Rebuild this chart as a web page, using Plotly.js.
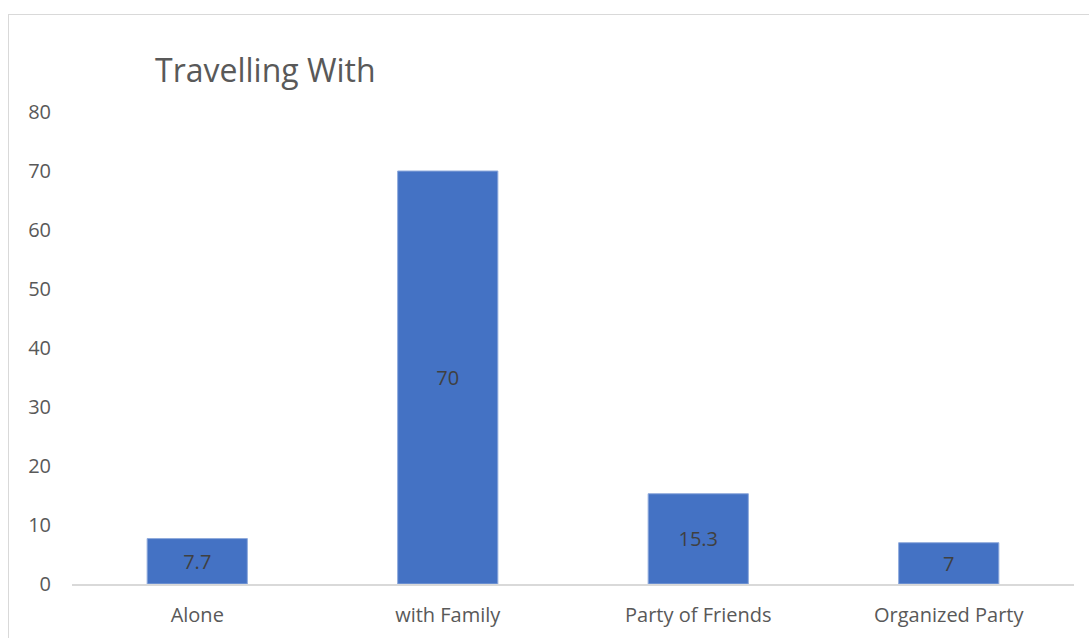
<!DOCTYPE html>
<html>
<head>
<meta charset="utf-8">
<script src="https://cdn.plot.ly/plotly-3.0.1.min.js"></script>
<style>
html,body{margin:0;padding:0;background:#fff;overflow:hidden;}
#frame{position:absolute;left:8px;top:14px;width:1100px;height:640px;border:1px solid #d9d9d9;box-sizing:content-box;}
#chart{width:1100px;height:640px;}
</style>
</head>
<body>
<div id="frame"><div id="chart"></div></div>
<script>
const categories = ["Alone", "with Family", "Party of Friends", "Organized Party"];
const values = [7.7, 70, 15.3, 7];
const yTicks = [0, 10, 20, 30, 40, 50, 60, 70, 80];

const trace = {
  type: "bar",
  x: categories,
  y: values,
  text: values.map(String),
  textposition: "inside",
  insidetextanchor: "middle",
  textangle: 0,
  textfont: {family: "Open Sans, Liberation Sans, sans-serif", size: 20, color: "#404040"},
  marker: {color: "#4472C4", line: {color: "#8faadc", width: 1}},
  hoverinfo: "none"
};

const layout = {
  width: 1100,
  height: 640,
  margin: {l: 63, r: 35, t: 97, b: 71},
  paper_bgcolor: "#fff",
  plot_bgcolor: "#fff",
  bargap: 0.6,
  showlegend: false,
  font: {family: "Open Sans, Liberation Sans, sans-serif", color: "#595959", size: 20},
  title: {
    text: "Travelling With",
    xref: "container", x: 146 / 1100, xanchor: "left",
    yref: "container", y: 1 - 56 / 640, yanchor: "middle",
    font: {family: "Open Sans, Liberation Sans, sans-serif", size: 32, color: "#595959"}
  },
  xaxis: {
    type: "category",
    showgrid: false,
    showline: true,
    linecolor: "#d9d9d9",
    linewidth: 1.5,
    ticks: "",
    ticklabelstandoff: 12,
    tickfont: {size: 20, color: "#595959"},
    zeroline: false
  },
  yaxis: {
    range: [0, 80],
    tickvals: yTicks,
    ticktext: yTicks.map(String),
    showgrid: false,
    showline: false,
    zeroline: false,
    ticks: "",
    ticklabelstandoff: 20,
    tickfont: {size: 20, color: "#595959"}
  }
};

Plotly.newPlot("chart", [trace], layout, {displayModeBar: false, staticPlot: true});
</script>
</body>
</html>
